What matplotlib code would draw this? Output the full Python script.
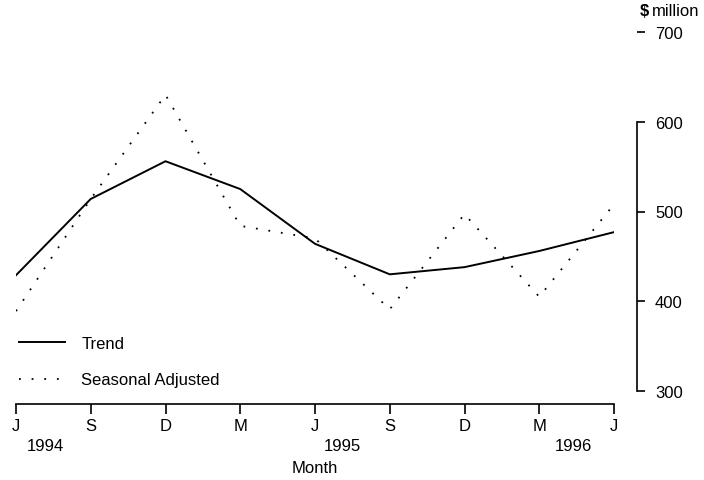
import matplotlib
matplotlib.use('Agg')
import matplotlib.pyplot as plt

plt.rcParams['font.family'] = ['Liberation Sans', 'DejaVu Sans']

months = ['J', 'S', 'D', 'M', 'J', 'S', 'D', 'M', 'J']
years = ['1994', '1995', '1996']
trend = [429, 514, 556, 525, 464, 430, 438, 456, 477]
seasonal = [389, 514, 630, 484, 470, 391, 497, 405, 508]
yticks = [300, 400, 500, 600, 700]

W, H = 704, 481
fs = 12
fig = plt.figure(figsize=(W / 100, H / 100), dpi=100)
ax = fig.add_axes([16 / W, (H - 392) / H, (614 - 16) / W, (392 - 33) / H])

x = list(range(len(months)))
ax.plot(x, trend, color='black', lw=1.4, label='Trend')
ax.plot(x, seasonal, color='black', lw=1.3, linestyle=(0, (1, 6)), label='Seasonal Adjusted')

ax.set_xlim(0, 8)
ax.set_ylim(300, 700)

for s in ['top', 'left']:
    ax.spines[s].set_visible(False)
ax.spines['bottom'].set_position(('outward', 13 * 0.72))
ax.spines['right'].set_position(('outward', 23 * 0.72))
ax.spines['right'].set_bounds(300, 600)
ax.spines['bottom'].set_linewidth(1.2)
ax.spines['right'].set_linewidth(1.2)

ax.set_xticks(x)
ax.set_xticklabels(months, fontsize=fs)
ax.tick_params(axis='x', direction='out', length=7, width=1.2, pad=3)

ax.yaxis.tick_right()
ax.set_yticks(yticks)
ax.set_yticklabels([str(v) for v in yticks], fontsize=fs)
ax.tick_params(axis='y', direction='out', length=6, width=1.2, pad=7)

# year labels under the month ticks
for xpos, yr in zip([0.39, 4.37, 7.46], years):
    ax.text(xpos, -0.153, yr, transform=ax.get_xaxis_transform(), ha='center', va='center', fontsize=fs)
ax.text(4.0, -0.212, 'Month', transform=ax.get_xaxis_transform(), ha='center', va='center', fontsize=fs)

fig.text(640 / W, 1 - 12 / H, '$', fontsize=fs, fontweight='bold', ha='left', va='center')
fig.text(652 / W, 1 - 12 / H, 'million', fontsize=fs, ha='left', va='center')

ax.legend(loc='lower left', bbox_to_anchor=(-0.012, -0.018), frameon=False, fontsize=fs,
          handlelength=2.8, handletextpad=0.95, labelspacing=1.3, borderaxespad=0.2)

fig.savefig('out.png', dpi=100)
